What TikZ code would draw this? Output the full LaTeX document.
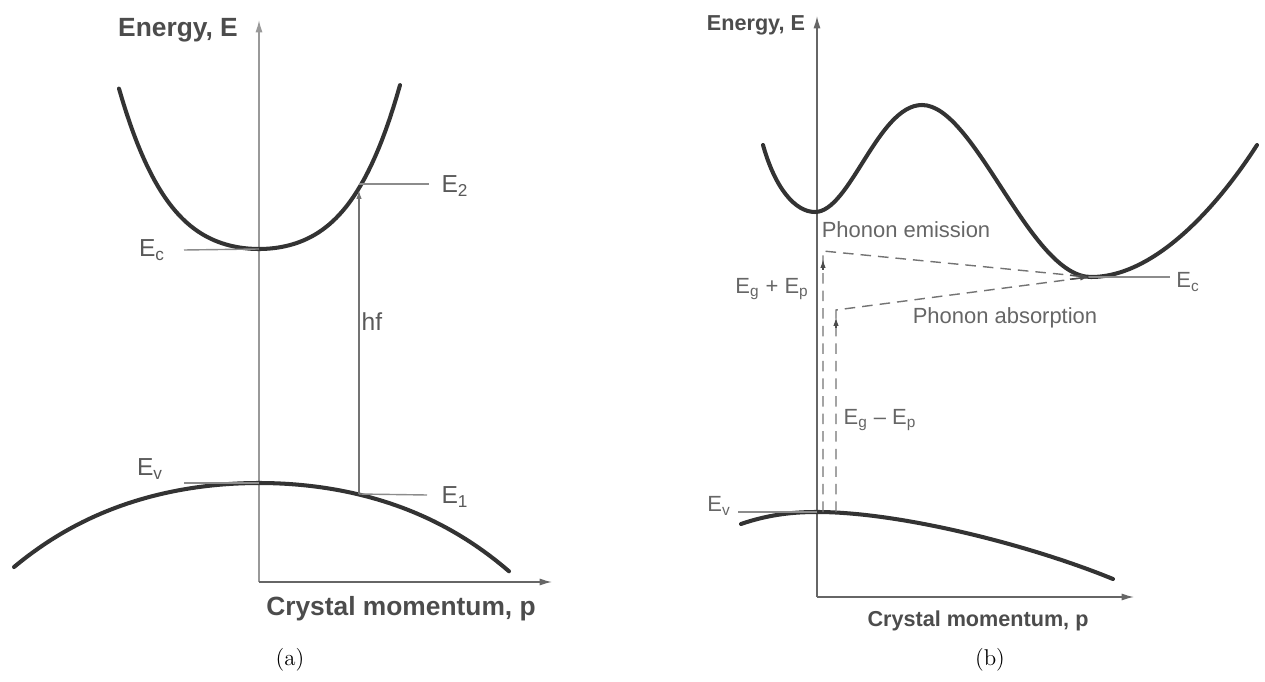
\documentclass[tikz,border=0pt]{standalone}
\usepackage{fontspec}
\newfontfamily\labelfont{Liberation Sans}
\usetikzlibrary{arrows.meta}

\tikzset{
    band/.style={line width=2.3pt, color=black!80, line cap=round},
    axisline/.style={line width=0.8pt, color=black!60, -{Latex[length=7pt,width=4pt]}},
    levelline/.style={line width=0.8pt, color=black!45},
    jumpline/.style={line width=0.8pt, color=black!55, dash pattern=on 6pt off 4pt},
    tipmark/.style={line width=0.8pt, color=black!70, -{Latex[length=5pt,width=3pt]}},
    axlbl/.style={font=\labelfont\bfseries\fontsize{15}{17}\selectfont, text=black!70, inner sep=0pt},
    axlblb/.style={font=\labelfont\bfseries\fontsize{12.3}{14}\selectfont, text=black!70, inner sep=0pt},
    lvl/.style={font=\labelfont\fontsize{14}{16}\selectfont, text=black!65, inner sep=0pt},
    lvlb/.style={font=\labelfont\fontsize{12.5}{14}\selectfont, text=black!60, inner sep=0pt},
    caption/.style={font=\fontsize{13}{15}\selectfont, inner sep=0pt}
}

\begin{document}
\begin{tikzpicture}[x=0.02cm, y=-0.02cm]
    \useasboundingbox (0,0) rectangle (1265,682);

    % Direct gap (a)
    \begin{scope}
        \coordinate (aO) at ({259}, {582});
        \coordinate (aYtop) at ({259}, {20});
        \coordinate (aXend) at ({552}, {582});
        \draw[axisline, color=black!40] (aO) to (aYtop);
        \draw[axisline] (aO) to (aXend);
        \node[axlbl] (aEn) at ({178}, {30}) {Energy, E};
        \node[axlbl] (aCm) at ({401}, {609}) {Crystal momentum, p};

        % bands
        \draw[band] plot[domain=119:400, samples=80]
            ({\x}, {249-39.1*((\x-259)/100)^2-21.8*((\x-259)/100)^4});
        \draw[band] plot[domain=14:509, samples=80]
            ({\x}, {483+11*((\x-259)/100)^2+0.5*((\x-259)/100)^4});

        % levels
        \coordinate (aCmin) at ({259}, {249});
        \coordinate (aEcl) at ({184}, {250});
        \node[lvl] (aEc) at ({152}, {250}) {E\textsubscript{c}};
        \draw[levelline] (aEcl) to (aCmin);

        \coordinate (aVmax) at ({259}, {483});
        \coordinate (aEvl) at ({184}, {483});
        \node[lvl] (aEv) at ({150}, {469}) {E\textsubscript{v}};
        \draw[levelline] (aEvl) to (aVmax);

        \coordinate (aTop) at ({359}, {184});
        \coordinate (aTip) at ({359}, {190});
        \coordinate (aBot) at ({359}, {494});
        \coordinate (aE2l) at ({429}, {184});
        \coordinate (aE1l) at ({427}, {495});
        \node[lvl] (aE2) at ({455}, {186}) {E\textsubscript{2}};
        \node[lvl] (aE1) at ({455}, {497}) {E\textsubscript{1}};
        \draw[levelline] (aTop) to (aE2l);
        \draw[levelline] (aBot) to (aE1l);
        \draw[tipmark, color=black!55] (aBot) to (aTip);
        \node[lvl] (aHf) at ({372}, {322}) {hf};

        \node[caption] (capA) at ({290}, {660}) {(a)};
    \end{scope}

    % Indirect gap (b)
    \begin{scope}
        \coordinate (bO) at ({817}, {597});
        \coordinate (bYtop) at ({817}, {16});
        \coordinate (bXend) at ({1134}, {597});
        \draw[axisline] (bO) to (bYtop);
        \draw[axisline] (bO) to (bXend);
        \node[axlblb] (bEn) at ({756}, {25}) {Energy, E};
        \node[axlblb] (bCm) at ({978}, {621}) {Crystal momentum, p};

        % bands
        \draw[band] ({763}, {145}) .. controls ({775}, {188}) and ({795}, {212}) .. ({815}, {212})
            .. controls ({850}, {212}) and ({878}, {105}) .. ({922}, {105})
            .. controls ({975}, {105}) and ({1030}, {277}) .. ({1091}, {277})
            .. controls ({1160}, {277}) and ({1225}, {195}) .. ({1257}, {145});
        \draw[band] ({741}, {524}) .. controls ({770}, {514}) and ({795}, {512}) .. ({817}, {512})
            .. controls ({900}, {512}) and ({1030}, {545}) .. ({1113}, {579});

        % levels
        \coordinate (bCmin) at ({1089}, {277});
        \coordinate (bEcl) at ({1170}, {277});
        \node[lvlb] (bEc) at ({1188}, {282}) {E\textsubscript{c}};
        \draw[levelline] (bCmin) to (bEcl);

        \coordinate (bVmax) at ({817}, {512});
        \coordinate (bEvl) at ({738}, {512});
        \node[lvlb] (bEv) at ({719}, {506}) {E\textsubscript{v}};
        \draw[levelline] (bEvl) to (bVmax);

        % phonon emission
        \coordinate (bEmB) at ({823}, {512});
        \coordinate (bEmC) at ({823}, {251});
        \coordinate (bEmT) at ({823}, {259});
        \draw[jumpline] (bEmB) to (bEmC) to (bCmin);
        \draw[tipmark] ({823}, {270}) to (bEmT);
        \draw[tipmark] ({1070}, {275.3}) to (bCmin);

        % phonon absorption
        \coordinate (bAbB) at ({836}, {512});
        \coordinate (bAbC) at ({836}, {310});
        \coordinate (bAbT) at ({836}, {317});
        \draw[jumpline] (bAbB) to (bAbC) to (bCmin);
        \draw[tipmark] ({836}, {328}) to (bAbT);
        \draw[tipmark] ({1070}, {279.2}) to (bCmin);

        \node[lvlb] (bEmi) at ({906}, {230}) {Phonon emission};
        \node[lvlb] (bAbs) at ({1005}, {318}) {Phonon absorption};
        \node[lvlb] (bPlus) at ({772}, {289}) {E\textsubscript{g} + E\textsubscript{p}};
        \node[lvlb] (bMinus) at ({880}, {420}) {E\textsubscript{g} \textendash{} E\textsubscript{p}};

        \node[caption] (capB) at ({990}, {660}) {(b)};
    \end{scope}
\end{tikzpicture}
\end{document}
